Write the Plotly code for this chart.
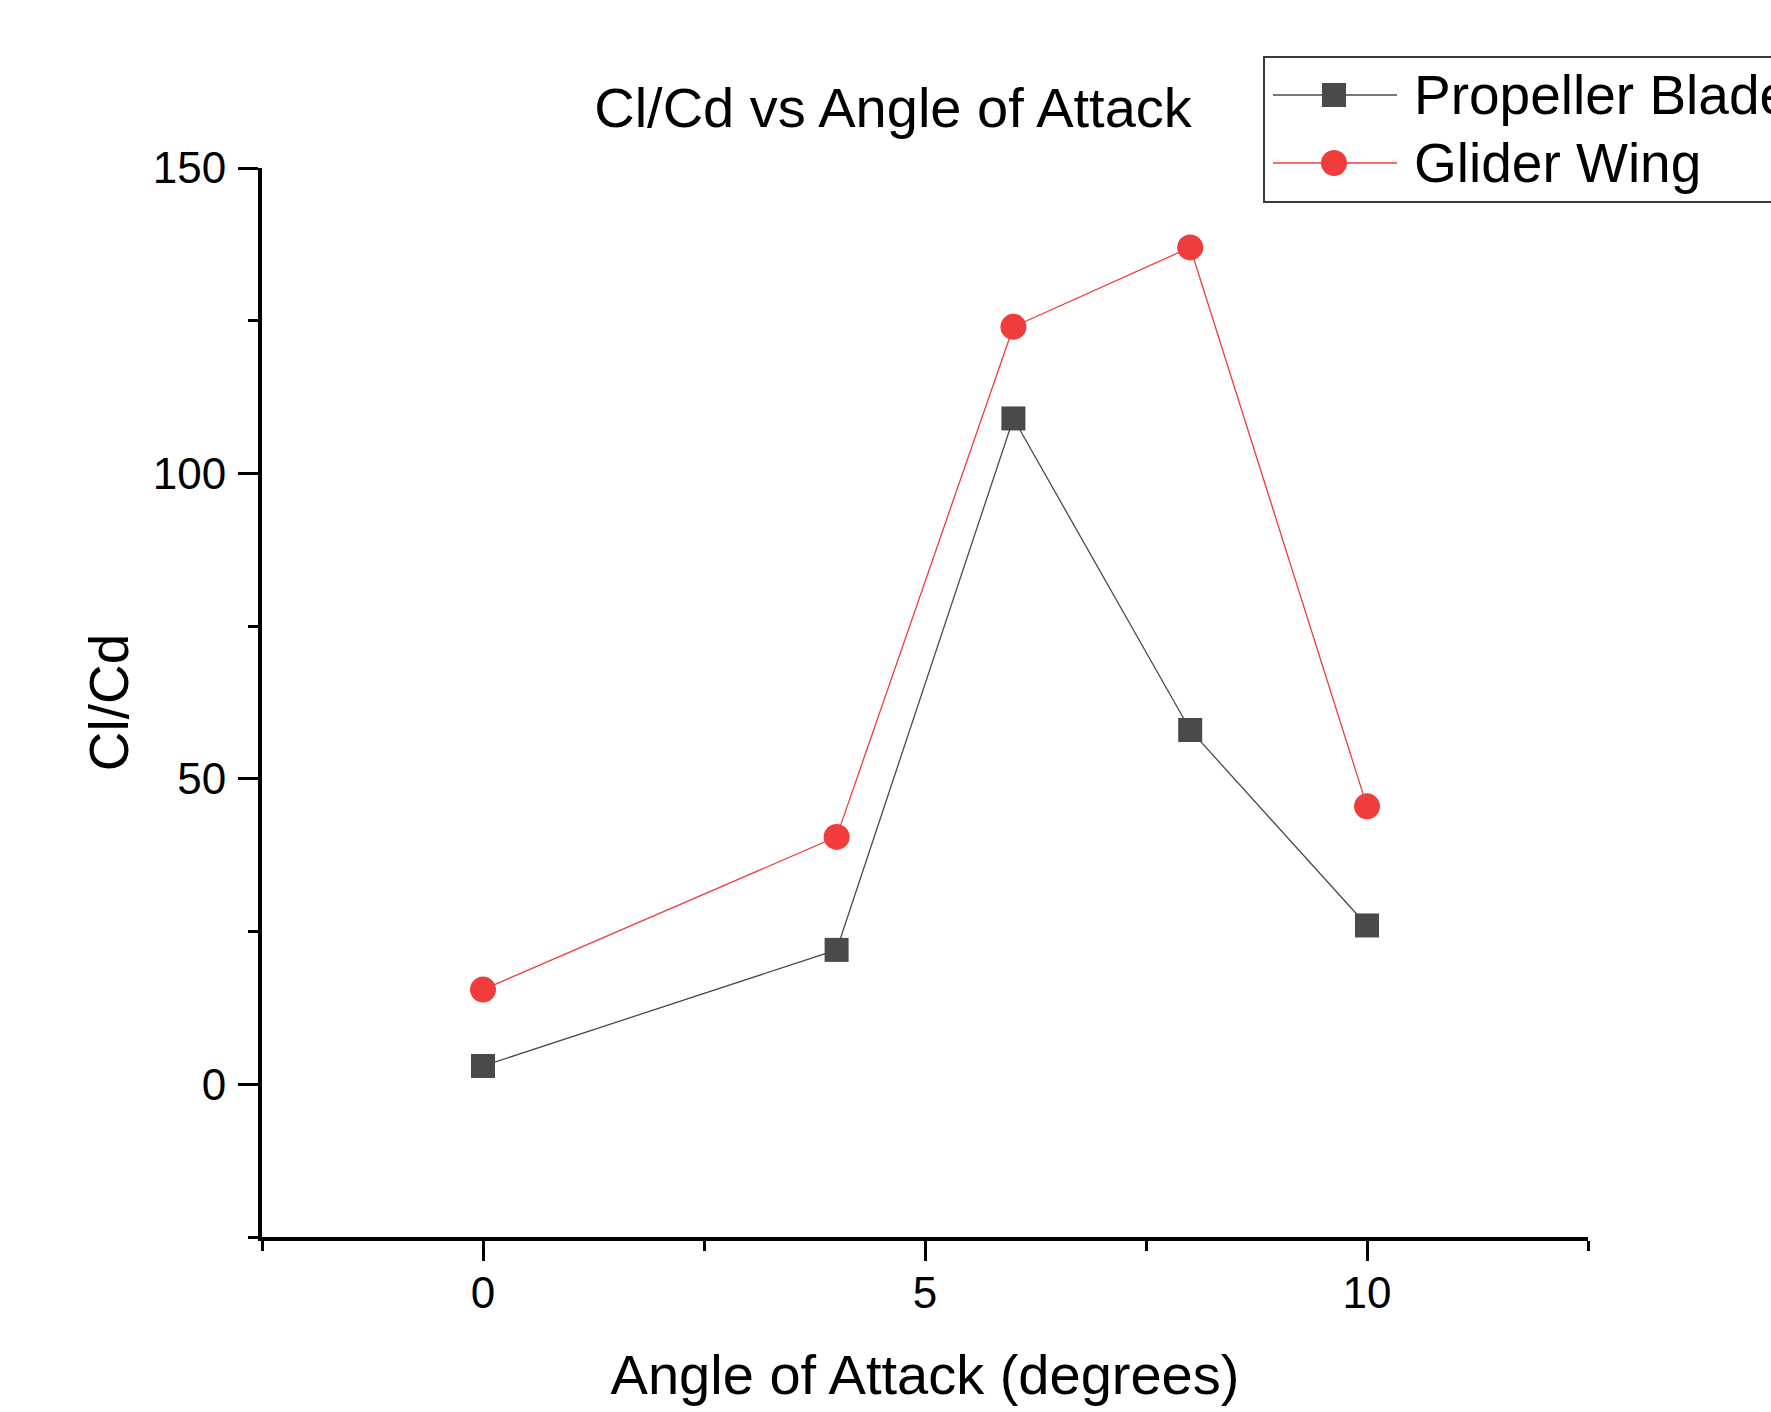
import plotly.graph_objects as go

# Angle of attack (degrees) and lift-to-drag ratios
angle = [0, 4, 6, 8, 10]
propeller_cl_cd = [3.0, 22.0, 109.0, 58.0, 26.0]
glider_cl_cd = [15.5, 40.5, 124.0, 137.0, 45.5]

series_names = ["Propeller Blade", "Glider Wing"]
series_colors = ["#4a4a4a", "#f03c3c"]
series_symbols = ["square", "circle"]

FONT = "Liberation Sans, Arial, sans-serif"
W, H = 1771, 1412
L, R, T, B = 262, 183, 168, 175
PW, PH = W - L - R, H - T - B


def px_x(px):
    """Pixel column -> paper x."""
    return (px - L) / PW


def px_y(py):
    """Pixel row -> paper y."""
    return (H - B - py) / PH


fig = go.Figure()
for name, ys, color, symbol, msize in zip(series_names, [propeller_cl_cd, glider_cl_cd],
                                          series_colors, series_symbols, [24, 26]):
    fig.add_trace(go.Scatter(
        x=angle, y=ys, name=name, mode="lines+markers",
        line=dict(color=color, width=1.3),
        marker=dict(symbol=symbol, size=msize, color=color),
        showlegend=False,
    ))

axis_common = dict(
    showgrid=False, zeroline=False, showline=True, linecolor="black", linewidth=4,
    ticks="outside", ticklen=20, tickwidth=3, tickcolor="black",
    tickfont=dict(family=FONT, size=44, color="black"),
)

fig.update_xaxes(
    range=[-2.5, 12.5], tick0=0, dtick=5, ticklabelstandoff=-6,
    minor=dict(dtick=2.5, tick0=0, ticks="outside", ticklen=10, tickwidth=3, tickcolor="black"),
    title=dict(text="Angle of Attack (degrees)", font=dict(family=FONT, size=56, color="black"), standoff=40),
    **axis_common,
)
fig.update_yaxes(
    range=[-25, 150], tick0=0, dtick=50, ticklabelstandoff=3,
    minor=dict(dtick=25, tick0=0, ticks="outside", ticklen=10, tickwidth=3, tickcolor="black"),
    title=dict(text="Cl/Cd", font=dict(family=FONT, size=55, color="black"), standoff=8),
    **axis_common,
)

# Boxed key in the upper right corner
shapes = [dict(type="rect", xref="paper", yref="paper",
               x0=px_x(1264), x1=px_x(1830), y0=px_y(202), y1=px_y(57),
               line=dict(color="#3a3a3a", width=2), fillcolor="white", layer="above")]
annotations = []
row_y = [95, 163]
for name, color, symbol, ry in zip(series_names, series_colors, series_symbols, row_y):
    half = 12 if symbol == "square" else 13
    shapes.append(dict(type="line", xref="paper", yref="paper",
                       x0=px_x(1273), x1=px_x(1397), y0=px_y(ry), y1=px_y(ry),
                       line=dict(color=color, width=1.3), layer="above"))
    shapes.append(dict(type="rect" if symbol == "square" else "circle",
                       xref="paper", yref="paper", xsizemode="pixel", ysizemode="pixel",
                       xanchor=px_x(1334), yanchor=px_y(ry),
                       x0=-half, x1=half, y0=-half, y1=half,
                       line=dict(width=0), fillcolor=color, layer="above"))
    annotations.append(dict(text=name, xref="paper", yref="paper",
                            x=px_x(1412), y=px_y(ry), xanchor="left", yanchor="middle",
                            showarrow=False, font=dict(family=FONT, size=55, color="black")))

fig.update_layout(
    width=W, height=H,
    margin=dict(l=L, r=R, t=T, b=B, autoexpand=False),
    paper_bgcolor="white", plot_bgcolor="white",
    title=dict(text="Cl/Cd vs Angle of Attack", font=dict(family=FONT, size=56, color="black"),
               x=893 / W, xanchor="center", xref="container",
               y=1 - 107 / H, yanchor="middle", yref="container"),
    shapes=shapes,
    annotations=annotations,
    showlegend=False,
)

fig.write_html("out.html")
